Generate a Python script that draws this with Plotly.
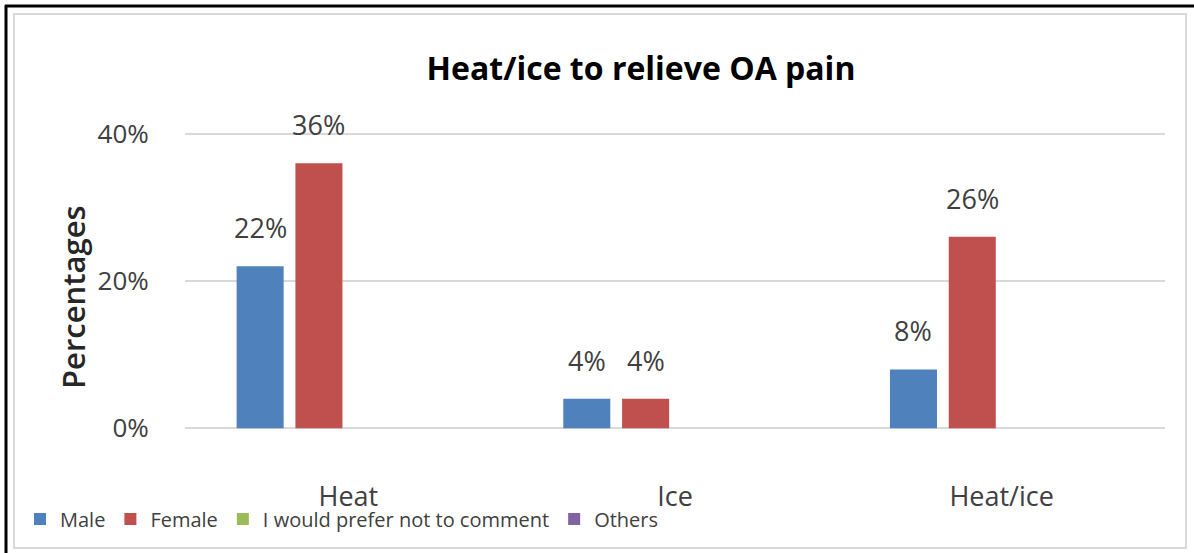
import plotly.graph_objects as go

categories = ["Heat", "Ice", "Heat/ice"]
male = [22, 4, 8]
female = [36, 4, 26]
no_comment = [None, None, None]
others = [None, None, None]
series_names = ["Male", "Female", "I would prefer not to comment", "Others"]
colors = ["#4F81BD", "#C0504D", "#9BBB59", "#8064A2"]
y_ticks = [0, 20, 40]
y_tick_labels = ["0%", "20%", "40%"]

FONT = "Open Sans"
W, H = 1194, 553
L, R, T, B = 185, 29, 130, 121
PW, PH = W - L - R, H - T - B
BARGAP = 0.28
N_SERIES = len(series_names)
SLOT_PX = PW / len(categories) * (1 - BARGAP) / N_SERIES

fig = go.Figure()
all_series = [male, female, no_comment, others]
for name, vals, col in zip(series_names, all_series, colors):
    fig.add_trace(go.Bar(
        x=categories, y=vals, name=name,
        marker=dict(color=col, line=dict(width=0)),
        cliponaxis=False,
    ))

# data labels placed above bars, offset like the original
annotations = []
for i, vals in enumerate(all_series):
    for cat, v in zip(categories, vals):
        if v is None:
            continue
        annotations.append(dict(
            x=cat, y=v, xref="x", yref="y", text=f"{v}%", showarrow=False,
            xshift=(i - (N_SERIES - 1) / 2) * SLOT_PX, yshift=18, yanchor="bottom",
            font=dict(family=FONT, size=27, color="#404040"),
        ))

# y-axis title, placed lower than centre as in the original
annotations.append(dict(
    x=(73 - L) / PW, y=(H - B - 297) / PH, xref="paper", yref="paper", text="Percentages",
    textangle=-90, showarrow=False, xanchor="center", yanchor="middle",
    font=dict(family=FONT, size=31, color="#262626", weight=600),
))

def px(x):
    return (x - L) / PW

def py(y):
    return (H - B - y) / PH

shapes = [
    dict(type="rect", xref="paper", yref="paper", x0=px(14), x1=px(1186), y0=py(548), y1=py(14),
         line=dict(color="#d9d9d9", width=2), layer="below"),
    dict(type="line", xref="paper", yref="paper", x0=px(6), x1=px(6), y0=py(553), y1=py(5),
         line=dict(color="black", width=3)),
    dict(type="line", xref="paper", yref="paper", x0=px(5), x1=px(1194), y0=py(6), y1=py(6),
         line=dict(color="black", width=3)),
]

fig.update_layout(
    width=W, height=H,
    margin=dict(l=L, r=R, t=T, b=B),
    paper_bgcolor="white", plot_bgcolor="white",
    barmode="group", bargap=BARGAP, bargroupgap=0.2,
    title=dict(text="<b>Heat/ice to relieve OA pain</b>", x=641 / W, xref="container", xanchor="center",
               y=1 - 69 / H, yanchor="middle", yref="container",
               font=dict(family=FONT, size=32, color="black")),
    font=dict(family=FONT, color="#404040"),
    showlegend=True,
    legend=dict(orientation="h", x=px(20), xanchor="left", y=py(519), yanchor="middle",
                font=dict(family=FONT, size=20, color="#404040"),
                itemwidth=30, tracegroupgap=0, bgcolor="rgba(0,0,0,0)"),
    shapes=shapes,
    annotations=annotations,
)
fig.update_xaxes(
    showgrid=False, showline=False, zeroline=False,
    ticks="outside", ticklen=41, tickcolor="rgba(0,0,0,0)",
    tickfont=dict(family=FONT, size=27, color="#404040"),
)
fig.update_yaxes(
    range=[-0.5, 40.5], tickvals=y_ticks, ticktext=y_tick_labels,
    showgrid=True, gridcolor="#d9d9d9", gridwidth=2, zeroline=False,
    ticks="outside", ticklen=30, tickcolor="rgba(0,0,0,0)",
    tickfont=dict(family=FONT, size=26, color="#404040"),
)

fig.write_html("out.html")
